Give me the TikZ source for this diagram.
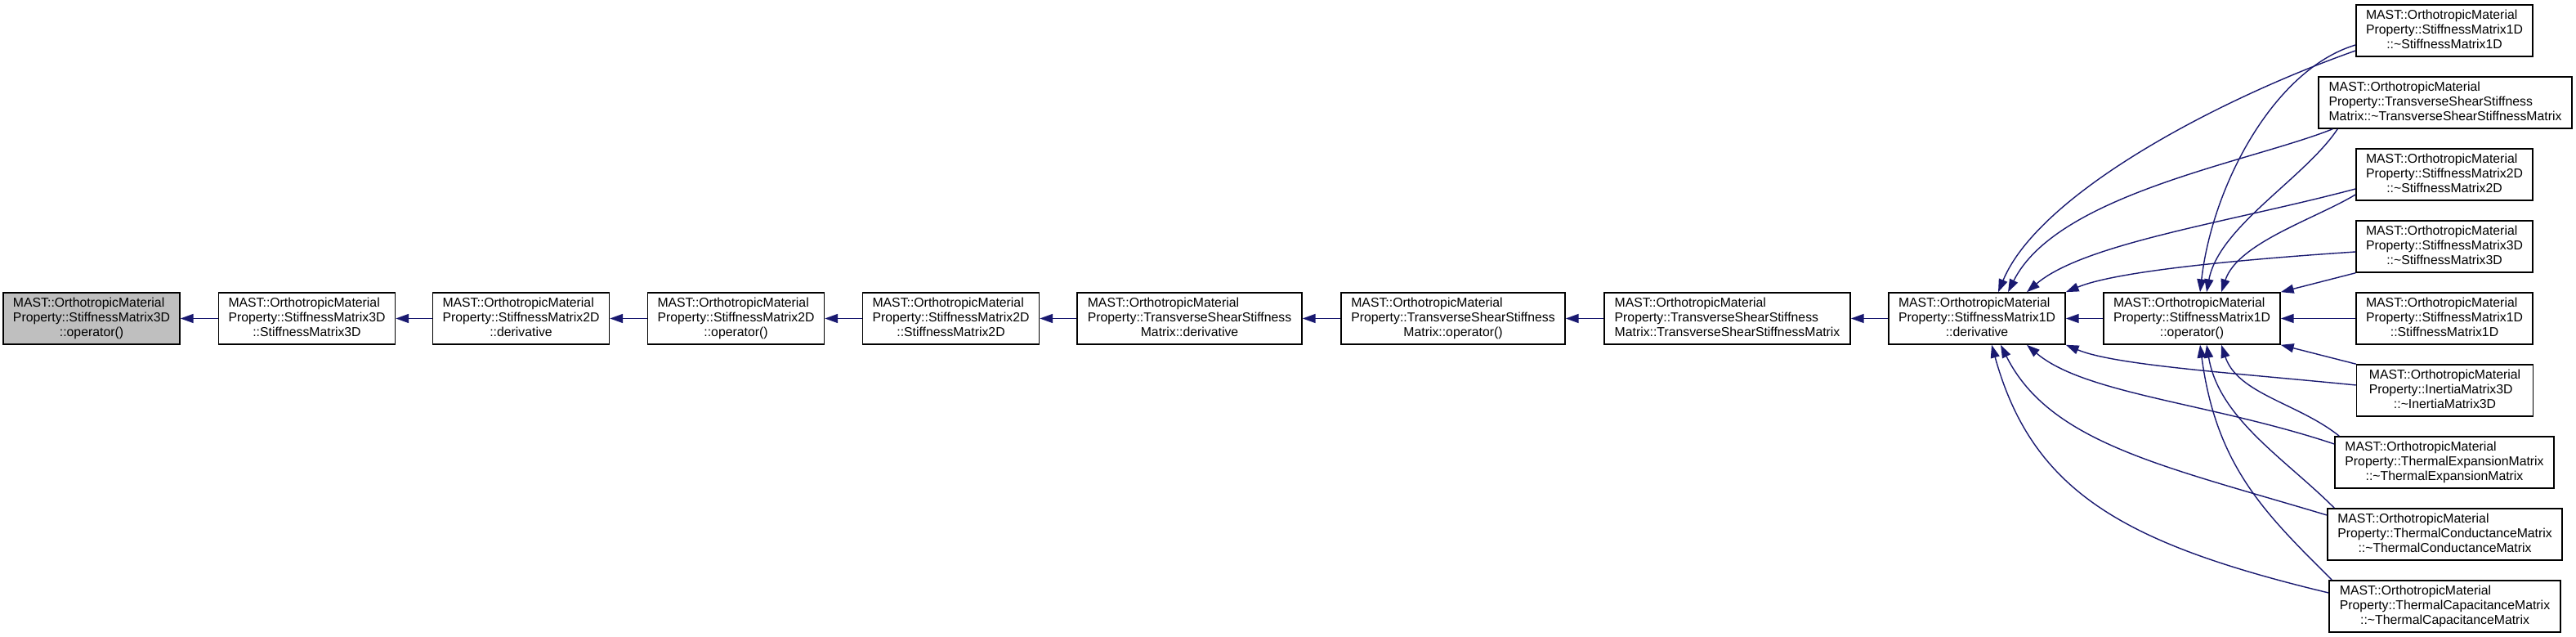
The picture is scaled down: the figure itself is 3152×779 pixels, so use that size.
\documentclass[tikz,border=0pt]{standalone}
\usepackage{fontspec}
\setmainfont{Liberation Sans}
\usetikzlibrary{arrows.meta,calc}

\definecolor{edgeblue}{HTML}{191970}
\definecolor{fngray}{HTML}{BFBFBF}

% three line doxygen label: first two lines left, last one centred
\newcommand{\mastfn}[2]{\begin{tabular}{@{}l@{}}MAST::OrthotropicMaterial\\#1\\\multicolumn{1}{@{}c@{}}{#2}\end{tabular}}

\tikzset{
  fn/.style={draw=black, line width=0.8pt, fill=white, minimum width=108pt,
    minimum height=31.5pt, inner xsep=4pt, inner ysep=0pt,
    font=\fontsize{7.9}{9}\selectfont},
  dep/.style={draw=edgeblue, line width=0.7pt, -{Triangle[length=7.9pt,width=5.5pt]}}
}

\begin{document}
\begin{tikzpicture}[x=0.5pt,y=0.5pt]
    \useasboundingbox (0,0) rectangle (3152,779);

    % main chain
    \node[fn, fill=fngray] (sm3dop) at (112,389.5) {\mastfn{Property::StiffnessMatrix3D}{::operator()}};
    \node[fn] (sm3dctor) at (375.5,389.5) {\mastfn{Property::StiffnessMatrix3D}{::StiffnessMatrix3D}};
    \node[fn] (sm2dderiv) at (637.5,389.5) {\mastfn{Property::StiffnessMatrix2D}{::derivative}};
    \node[fn] (sm2dop) at (900.5,389.5) {\mastfn{Property::StiffnessMatrix2D}{::operator()}};
    \node[fn] (sm2dctor) at (1163.5,389.5) {\mastfn{Property::StiffnessMatrix2D}{::StiffnessMatrix2D}};
    \node[fn, minimum width=137.5pt] (tsderiv) at (1455.5,389.5) {\mastfn{Property::TransverseShearStiffness}{Matrix::derivative}};
    \node[fn, minimum width=137pt] (tsop) at (1778,389.5) {\mastfn{Property::TransverseShearStiffness}{Matrix::operator()}};
    \node[fn, minimum width=150.5pt] (tsctor) at (2113.5,389.5) {\mastfn{Property::TransverseShearStiffness}{Matrix::TransverseShearStiffnessMatrix}};
    \node[fn] (sm1dderiv) at (2419,389.5) {\mastfn{Property::StiffnessMatrix1D}{::derivative}};
    \node[fn] (sm1dop) at (2682,389.5) {\mastfn{Property::StiffnessMatrix1D}{::operator()}};

    % callers on the right
    \node[fn] (sm1ddtor) at (2991,741.5) {\mastfn{Property::StiffnessMatrix1D}{::\textasciitilde StiffnessMatrix1D}};
    \node[fn, minimum width=155pt] (tsdtor) at (2992,653.5) {\mastfn{Property::TransverseShearStiffness}{Matrix::\textasciitilde TransverseShearStiffnessMatrix}};
    \node[fn] (sm2ddtor) at (2991,565.5) {\mastfn{Property::StiffnessMatrix2D}{::\textasciitilde StiffnessMatrix2D}};
    \node[fn] (sm3ddtor) at (2991,477.5) {\mastfn{Property::StiffnessMatrix3D}{::\textasciitilde StiffnessMatrix3D}};
    \node[fn] (sm1dctor) at (2991,389.5) {\mastfn{Property::StiffnessMatrix1D}{::StiffnessMatrix1D}};
    \node[fn] (im3ddtor) at (2991.5,301.5) {\mastfn{Property::InertiaMatrix3D}{::\textasciitilde InertiaMatrix3D}};
    \node[fn, minimum width=134pt] (tedtor) at (2991,213.5) {\mastfn{Property::ThermalExpansionMatrix}{::\textasciitilde ThermalExpansionMatrix}};
    \node[fn, minimum width=143.5pt] (tcdtor) at (2991.5,125.5) {\mastfn{Property::ThermalConductanceMatrix}{::\textasciitilde ThermalConductanceMatrix}};
    \node[fn, minimum width=141.5pt] (tcapdtor) at (2991.5,37.5) {\mastfn{Property::ThermalCapacitanceMatrix}{::\textasciitilde ThermalCapacitanceMatrix}};

    % straight edges
    \draw[dep] (sm3dctor) -- (sm3dop);
    \draw[dep] (sm2dderiv) -- (sm3dctor);
    \draw[dep] (sm2dop) -- (sm2dderiv);
    \draw[dep] (sm2dctor) -- (sm2dop);
    \draw[dep] (tsderiv) -- (sm2dctor);
    \draw[dep] (tsop) -- (tsderiv);
    \draw[dep] (tsctor) -- (tsop);
    \draw[dep] (sm1dderiv) -- (tsctor);
    \draw[dep] (sm1dop) -- (sm1dderiv);
    \draw[dep] (sm1dctor) -- (sm1dop);
    \draw[dep] (sm3ddtor.south west) -- (sm1dop.north east);
    \draw[dep] (im3ddtor.north west) -- (sm1dop.south east);

    % curved edges, upper half
    \draw[dep] ($(sm1ddtor.west)+(0,-24.5)$) .. controls +(-170,-60) and +(50,120) .. ($(sm1dderiv.north)+(26,0)$);
    \draw[dep] ($(sm1ddtor.west)+(0,-17.5)$) .. controls +(-100,-30) and +(15,130) .. ($(sm1dop.north)+(10,0)$);
    \draw[dep] ($(tsdtor.south west)+(18,0)$) .. controls +(-100,-40) and +(60,120) .. ($(sm1dderiv.north)+(38,0)$);
    \draw[dep] ($(tsdtor.south west)+(24,0)$) .. controls +(-40,-60) and +(15,80) .. ($(sm1dop.north)+(18,0)$);
    \draw[dep] ($(sm2ddtor.west)+(0,-17.5)$) .. controls +(-150,-40) and +(70,60) .. ($(sm1dderiv.north)+(61,0)$);
    \draw[dep] ($(sm2ddtor.west)+(0,-24.5)$) .. controls +(-50,-30) and +(20,60) .. ($(sm1dop.north)+(36,0)$);
    \draw[dep] ($(sm3ddtor.west)+(0,-6.5)$) .. controls +(-150,-10) and +(60,25) .. (sm1dderiv.north east);

    % curved edges, lower half
    \draw[dep] ($(im3ddtor.west)+(0,6.5)$) .. controls +(-150,15) and +(60,-25) .. (sm1dderiv.south east);
    \draw[dep] ($(tedtor.west)+(0,22.5)$) .. controls +(-150,50) and +(70,-60) .. ($(sm1dderiv.south)+(61,0)$);
    \draw[dep] ($(tedtor.north west)+(6,0)$) .. controls +(-50,40) and +(20,-60) .. ($(sm1dop.south)+(36,0)$);
    \draw[dep] ($(tcdtor.west)+(0,23.5)$) .. controls +(-200,60) and +(60,-120) .. ($(sm1dderiv.south)+(29,0)$);
    \draw[dep] ($(tcdtor.north west)+(9,0)$) .. controls +(-60,60) and +(15,-90) .. ($(sm1dop.south)+(18,0)$);
    \draw[dep] ($(tcapdtor.west)+(0,16.5)$) .. controls +(-250,60) and +(50,-180) .. ($(sm1dderiv.south)+(18,0)$);
    \draw[dep] ($(tcapdtor.north west)+(4,0)$) .. controls +(-80,80) and +(20,-150) .. ($(sm1dop.south)+(10,0)$);
\end{tikzpicture}
\end{document}
